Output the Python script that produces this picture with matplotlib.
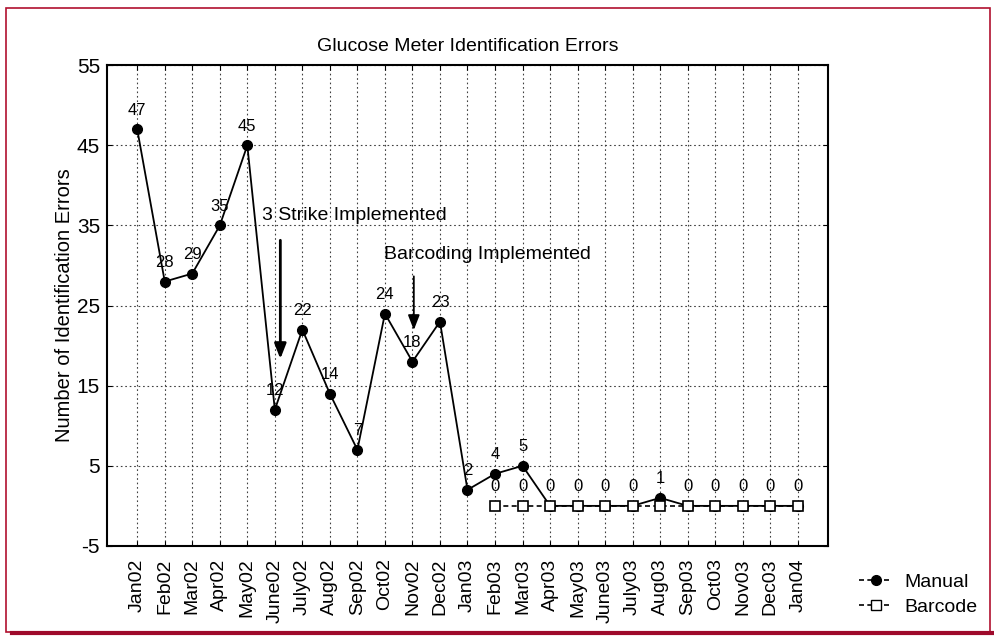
import matplotlib.pyplot as plt
from matplotlib.patches import Rectangle
from matplotlib.lines import Line2D

plt.rcParams['font.family'] = ['Liberation Sans', 'DejaVu Sans']
plt.rcParams['axes.unicode_minus'] = False

months = ['Jan02', 'Feb02', 'Mar02', 'Apr02', 'May02', 'June02', 'July02', 'Aug02',
          'Sep02', 'Oct02', 'Nov02', 'Dec02', 'Jan03', 'Feb03', 'Mar03', 'Apr03',
          'May03', 'June03', 'July03', 'Aug03', 'Sep03', 'Oct03', 'Nov03', 'Dec03', 'Jan04']
manual = [47, 28, 29, 35, 45, 12, 22, 14, 7, 24, 18, 23, 2, 4, 5, 0,
          0, 0, 0, 1, 0, 0, 0, 0, 0]
barcode_start = 13  # Feb03
barcode = [0] * 12
y_ticks = [-5, 5, 15, 25, 35, 45, 55]

fig = plt.figure(figsize=(9.94, 6.4), dpi=100)
ax = fig.add_axes([0.1076, 0.147, 0.7254, 0.751])

x = list(range(len(months)))
xb = x[barcode_start:]

ax.plot(x, manual, color='black', lw=1.3, marker='o', markersize=7,
        label='Manual', zorder=3)
ax.plot(xb, barcode, color='black', lw=1.2, ls=(0, (3, 2)), marker='s',
        markersize=7, markerfacecolor='white', markeredgecolor='black',
        markeredgewidth=1.2, label='Barcode', zorder=4)

# data labels (where both series share a zero only one label is shown)
for i, v in enumerate(manual):
    if i >= barcode_start and v == 0:
        continue
    ax.annotate(str(v), (i, v), textcoords='offset pixels', xytext=(0, 19),
                ha='center', va='center', fontsize=12)
for i, v in zip(xb, barcode):
    if manual[i] != v and manual[i] < 3:
        continue
    ax.annotate(str(v), (i, v), textcoords='offset pixels', xytext=(0, 19),
                ha='center', va='center', fontsize=12)

# annotations
ax.text(4.55, 36.2, '3 Strike Implemented', fontsize=14, va='center')
ax.annotate('', xy=(5.2, 18.0), xytext=(5.2, 33.5),
            arrowprops=dict(arrowstyle='-|>,head_length=0.9,head_width=0.35',
                            color='black', lw=2))
ax.text(8.95, 31.4, 'Barcoding Implemented', fontsize=14, va='center')
ax.annotate('', xy=(10.05, 21.6), xytext=(10.05, 29.0),
            arrowprops=dict(arrowstyle='-|>,head_length=0.9,head_width=0.35',
                            color='black', lw=1.3))

ax.set_xlim(-1.1, 25.1)
ax.set_ylim(-5, 55)
ax.set_yticks(y_ticks)
ax.set_xticks(x)
ax.set_xticklabels(months, rotation=90, fontsize=14)
ax.tick_params(axis='y', labelsize=15, direction='in', right=True, pad=5)
ax.tick_params(axis='x', direction='in', top=True, pad=9)
ax.grid(True, color='0.25', ls=(0, (1.5, 2.5)), lw=0.8)
for s in ax.spines.values():
    s.set_linewidth(1.5)

ax.set_ylabel('Number of Identification Errors', fontsize=14.5, labelpad=2)
ax.set_title('Glucose Meter Identification Errors', fontsize=14, pad=10)

handles = [Line2D([], [], color='black', lw=1.2, ls=(0, (3, 2)), marker='o', markersize=7),
           Line2D([], [], color='black', lw=1.2, ls=(0, (3, 2)), marker='s', markersize=7,
                  markerfacecolor='white')]
fig.legend(handles, ['Manual', 'Barcode'], loc='center left',
           bbox_to_anchor=(0.847, 0.071), frameon=False, fontsize=14,
           handlelength=1.7, handletextpad=0.6, labelspacing=0.35)

# red frame around the figure
fig.patches.append(Rectangle((0.006, 0.012), 0.99, 0.975, transform=fig.transFigure,
                             fill=False, edgecolor='#b0112f', lw=1.2))
fig.add_artist(Line2D([0.012, 1.0], [0.011, 0.011], transform=fig.transFigure,
                      color='#9e0a2b', lw=3))

fig.savefig('out.png', dpi=100)
